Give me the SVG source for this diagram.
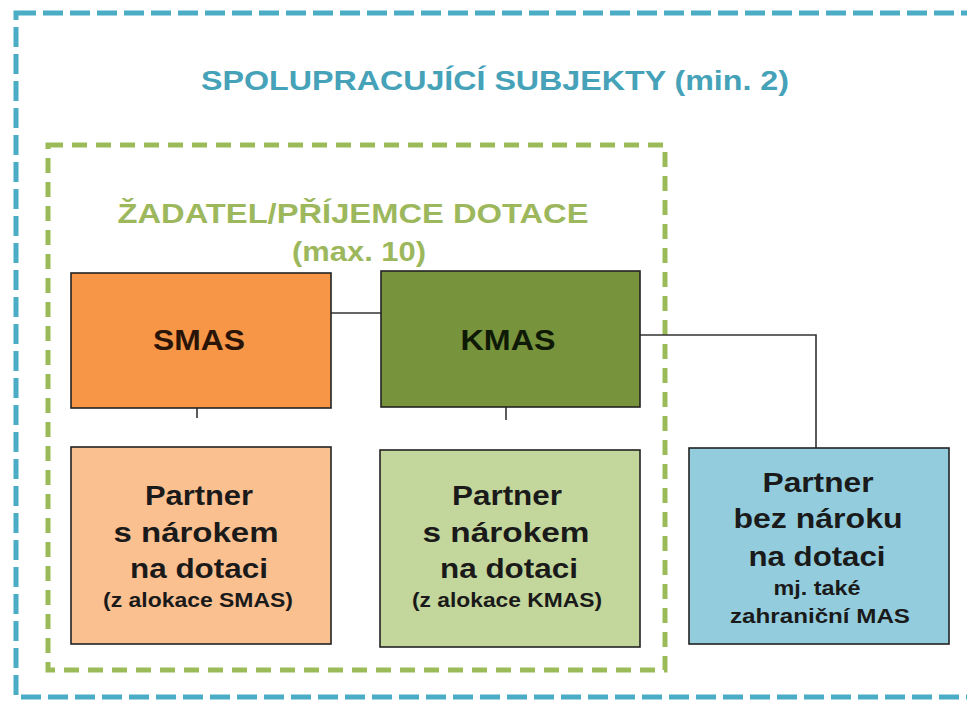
<svg xmlns="http://www.w3.org/2000/svg" width="967" height="703" viewBox="0 0 967 703">
<style>
.frame{fill:none;stroke-width:5}
.box{stroke:#222;stroke-width:1.6}
.t{font-family:"Liberation Sans",Arial,sans-serif;font-weight:bold;text-anchor:middle;fill:#1a1a1a}
.big{font-size:27px}
.small{font-size:20px}
.con{fill:none;stroke:#333;stroke-width:1.6}
</style>
<rect width="967" height="703" fill="#ffffff"/>
<g id="outer-frame">
<rect class="frame" x="16" y="13" width="980" height="684" stroke="#4BACC6" stroke-dasharray="20 7"/>
<text class="t" x="495" y="90" font-size="28" fill="#45A2B8" style="fill:#45A2B8" textLength="588" lengthAdjust="spacingAndGlyphs">SPOLUPRACUJÍCÍ SUBJEKTY (min. 2)</text>
</g>
<g id="applicant-frame">
<rect class="frame" x="48" y="145" width="617" height="525" stroke="#9BBB59" stroke-dasharray="15 9"/>
<text class="t" x="353" y="223" font-size="28" style="fill:#9DB85C" textLength="471" lengthAdjust="spacingAndGlyphs">ŽADATEL/PŘÍJEMCE DOTACE</text>
<text class="t" x="359" y="261" font-size="28" style="fill:#9DB85C" textLength="134" lengthAdjust="spacingAndGlyphs">(max. 10)</text>
</g>
<g id="connectors">
<path class="con" d="M331 313 H381"/>
<path class="con" d="M640 335 H816 V448"/>
<path class="con" d="M197 408 V418"/>
<path class="con" d="M506 407 V420"/>
</g>
<g id="smas">
<rect class="box" x="71" y="273" width="260" height="135" fill="#F79646"/>
<text class="t" x="199" y="350" font-size="29" style="fill:#2a1408" textLength="92" lengthAdjust="spacingAndGlyphs">SMAS</text>
</g>
<g id="kmas">
<rect class="box" x="381" y="271" width="259" height="136" fill="#77933C"/>
<text class="t" x="508" y="350" font-size="29" style="fill:#0f1a06" textLength="95" lengthAdjust="spacingAndGlyphs">KMAS</text>
</g>
<g id="partner-smas">
<rect class="box" x="71" y="447" width="260" height="197" fill="#FAC090"/>
<text class="t big" x="199" y="505" textLength="108" lengthAdjust="spacingAndGlyphs">Partner</text>
<text class="t big" x="196" y="542" textLength="165" lengthAdjust="spacingAndGlyphs">s nárokem</text>
<text class="t big" x="199" y="578" textLength="138" lengthAdjust="spacingAndGlyphs">na dotaci</text>
<text class="t small" x="198" y="607" textLength="190" lengthAdjust="spacingAndGlyphs">(z alokace SMAS)</text>
</g>
<g id="partner-kmas">
<rect class="box" x="380" y="450" width="260" height="197" fill="#C3D69B"/>
<text class="t big" x="507" y="505" textLength="110" lengthAdjust="spacingAndGlyphs">Partner</text>
<text class="t big" x="506" y="542" textLength="167" lengthAdjust="spacingAndGlyphs">s nárokem</text>
<text class="t big" x="509" y="578" textLength="138" lengthAdjust="spacingAndGlyphs">na dotaci</text>
<text class="t small" x="507" y="607" textLength="190" lengthAdjust="spacingAndGlyphs">(z alokace KMAS)</text>
</g>
<g id="partner-foreign">
<rect class="box" x="689" y="448" width="260" height="196" fill="#93CDDD"/>
<text class="t big" x="818" y="492" textLength="111" lengthAdjust="spacingAndGlyphs">Partner</text>
<text class="t big" x="818" y="528" textLength="169" lengthAdjust="spacingAndGlyphs">bez nároku</text>
<text class="t big" x="817" y="566" textLength="137" lengthAdjust="spacingAndGlyphs">na dotaci</text>
<text class="t small" x="817" y="595" textLength="87" lengthAdjust="spacingAndGlyphs">mj. také</text>
<text class="t small" x="820" y="623" textLength="180" lengthAdjust="spacingAndGlyphs">zahraniční MAS</text>
</g>
</svg>
